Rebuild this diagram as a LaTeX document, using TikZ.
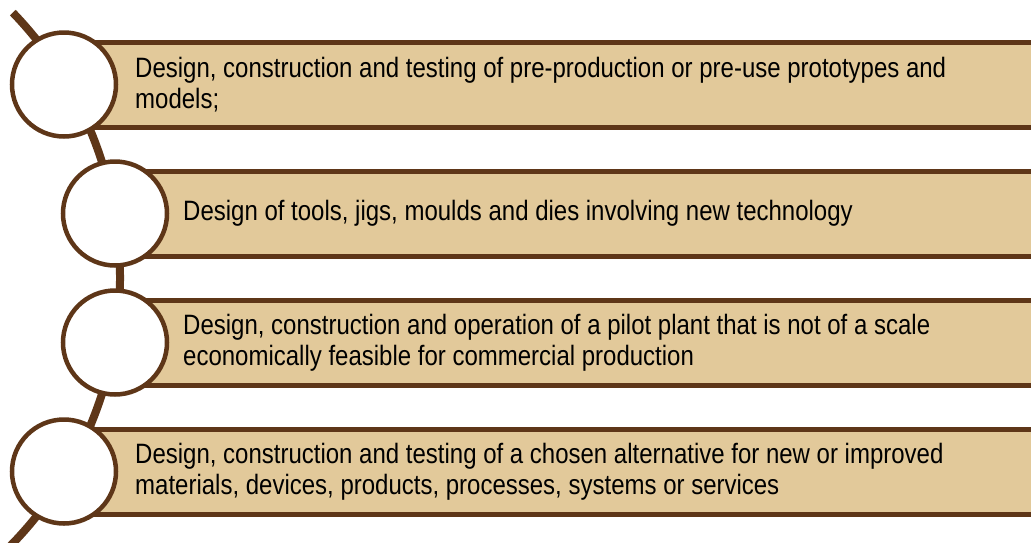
\documentclass[tikz,border=0pt]{standalone}
\usepackage{fontspec}
\setmainfont{Liberation Sans}[FakeStretch=0.857]
\definecolor{brn}{HTML}{5E3618}
\definecolor{tan}{HTML}{E2C99A}
\begin{document}
\begin{tikzpicture}[x=1pt,y=-1pt,
  itembox/.style={draw=brn, line width=5pt, fill=tan, rectangle, anchor=west,
    minimum width=1000pt, minimum height=85pt, inner sep=0pt},
  disc/.style={draw=brn, line width=4.5pt, fill=white, circle, minimum size=104pt, inner sep=0pt},
  label/.style={anchor=west, align=left, inner sep=0pt, text=black,
    font=\fontsize{28}{31}\selectfont},
  spine/.style={draw=brn, line width=8pt}]
\useasboundingbox (0,0) rectangle (1031,542);
\clip (0,0) rectangle (1031,542);
% spine arc
\coordinate (top) at (12.8,12.6);
\draw[spine] (top) arc[start angle=44, end angle=-48, radius=382pt] coordinate (bottom);
% boxes
\node[itembox] (b1) at (64,84.5) {};
\node[itembox] (b2) at (115,213.5) {};
\node[itembox] (b3) at (115,342.5) {};
\node[itembox] (b4) at (64,471.5) {};
% circles
\node[disc] (c1) at (64,84.5) {};
\node[disc] (c2) at (115,213.5) {};
\node[disc] (c3) at (115,342.5) {};
\node[disc] (c4) at (64,471.5) {};
% texts
\node[label] (t1) at (135,84.5) {Design, construction and testing of pre-production or pre-use prototypes and\\models;};
\node[label] (t2) at (183,213.5) {Design of tools, jigs, moulds and dies involving new technology};
\node[label] (t3) at (183,342.5) {Design, construction and operation of a pilot plant that is not of a scale\\economically feasible for commercial production};
\node[label] (t4) at (135,471.5) {Design, construction and testing of a chosen alternative for new or improved\\materials, devices, products, processes, systems or services};
\end{tikzpicture}
\end{document}
